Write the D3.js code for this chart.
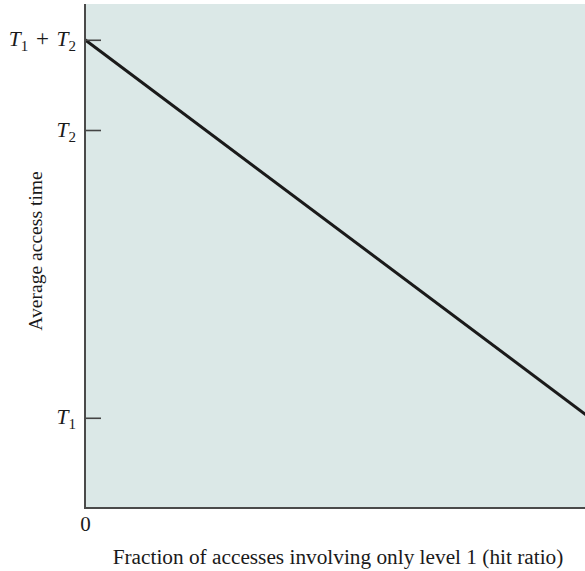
<!DOCTYPE html>
<html>
<head>
<meta charset="utf-8">
<script src="https://cdn.jsdelivr.net/npm/d3@7"></script>
<style>
  html, body { margin: 0; padding: 0; background: #ffffff; }
  svg { display: block; }
</style>
</head>
<body>
<svg id="chart" width="585" height="571"></svg>
<script>
// ---- data (schematic units) ----
const hitRatio = [0, 1];               // fraction of accesses involving only level 1
const avgTime  = [92.9, 17.9];         // average access time: T1+T2 at 0, T1 at 1
const yTickValues = [17.9, 75, 92.9];  // positions of T1, T2, T1+T2
const yTickLabels = [
  [["T", "i"], ["1", "sub"]],
  [["T", "i"], ["2", "sub"]],
  [["T", "i"], ["1", "sub"], [" \u200A+\u200A ", "n"], ["T", "i"], ["2", "sub"]]
];
const xTickValues = [0];
const xTickLabels = ["0"];
const xTitle = "Fraction of accesses involving only level 1 (hit ratio)";
const yTitle = "Average access time";

// ---- layout ----
const svg = d3.select("#chart");
const mLeft = 85, mTop = 4, mBottom = 508, mRight = 590;
const font = "'Liberation Serif', 'Times New Roman', serif";

const x = d3.scaleLinear().domain([0, 1]).range([mLeft, mRight]);
const y = d3.scaleLinear().domain([0, 100]).range([mBottom, mTop]);

// background
svg.append("rect")
  .attr("x", mLeft).attr("y", mTop)
  .attr("width", 585 - mLeft).attr("height", mBottom - mTop)
  .attr("fill", "#dbe8e7");

// data line
const line = d3.line().x((d, i) => x(hitRatio[i])).y(d => y(d));
svg.append("path")
  .datum(avgTime)
  .attr("d", line)
  .attr("fill", "none")
  .attr("stroke", "#1a1a1a")
  .attr("stroke-width", 3);

// y axis ticks (drawn inward)
const yAxis = d3.axisRight(y).tickValues(yTickValues).tickSize(16).tickFormat("");
const gy = svg.append("g").attr("transform", `translate(${mLeft},0)`).call(yAxis);
gy.select(".domain").remove();
gy.selectAll(".tick line").attr("stroke", "#444").attr("stroke-width", 1.6);

// y tick labels with italic T and subscripts
yTickValues.forEach((v, i) => {
  const t = svg.append("text")
    .attr("x", mLeft - 9)
    .attr("y", y(v) + 6.7)
    .attr("text-anchor", "end")
    .attr("font-family", font)
    .attr("font-size", 21.5)
    .attr("fill", "#1a1a1a");
  yTickLabels[i].forEach(([s, kind], j) => {
    const prev = j > 0 ? yTickLabels[i][j - 1][1] : null;
    let dy = 0;
    if (kind === "sub" && prev !== "sub") dy = 5;
    if (kind !== "sub" && prev === "sub") dy = -5;
    const ts = t.append("tspan").text(s).attr("dy", dy);
    if (kind === "i") ts.attr("font-style", "italic");
    if (kind === "sub") ts.attr("font-size", 15);
    if (kind === "n") ts.attr("font-size", 23);
  });
});

// x axis tick label
const xAxis = d3.axisBottom(x).tickValues(xTickValues).tickSize(0)
  .tickFormat((d, i) => xTickLabels[i]);
const gx = svg.append("g").attr("transform", `translate(0,${mBottom})`).call(xAxis);
gx.select(".domain").remove();
gx.selectAll(".tick text")
  .attr("font-family", font).attr("font-size", 21).attr("fill", "#1a1a1a")
  .attr("dy", 0).attr("y", 23);

// axis lines
svg.append("line")
  .attr("x1", mLeft).attr("x2", mLeft).attr("y1", mTop).attr("y2", mBottom)
  .attr("stroke", "#4a4a4a").attr("stroke-width", 2);
svg.append("line")
  .attr("x1", mLeft - 1).attr("x2", 585).attr("y1", mBottom).attr("y2", mBottom)
  .attr("stroke", "#4a4a4a").attr("stroke-width", 2);

// titles
svg.append("text")
  .attr("x", 338).attr("y", 564)
  .attr("text-anchor", "middle")
  .attr("font-family", font).attr("font-size", 21.3).attr("fill", "#1a1a1a")
  .text(xTitle);

svg.append("text")
  .attr("transform", "translate(42,251) rotate(-90)")
  .attr("text-anchor", "middle")
  .attr("font-family", font).attr("font-size", 19.6).attr("fill", "#1a1a1a")
  .text(yTitle);
</script>
</body>
</html>
